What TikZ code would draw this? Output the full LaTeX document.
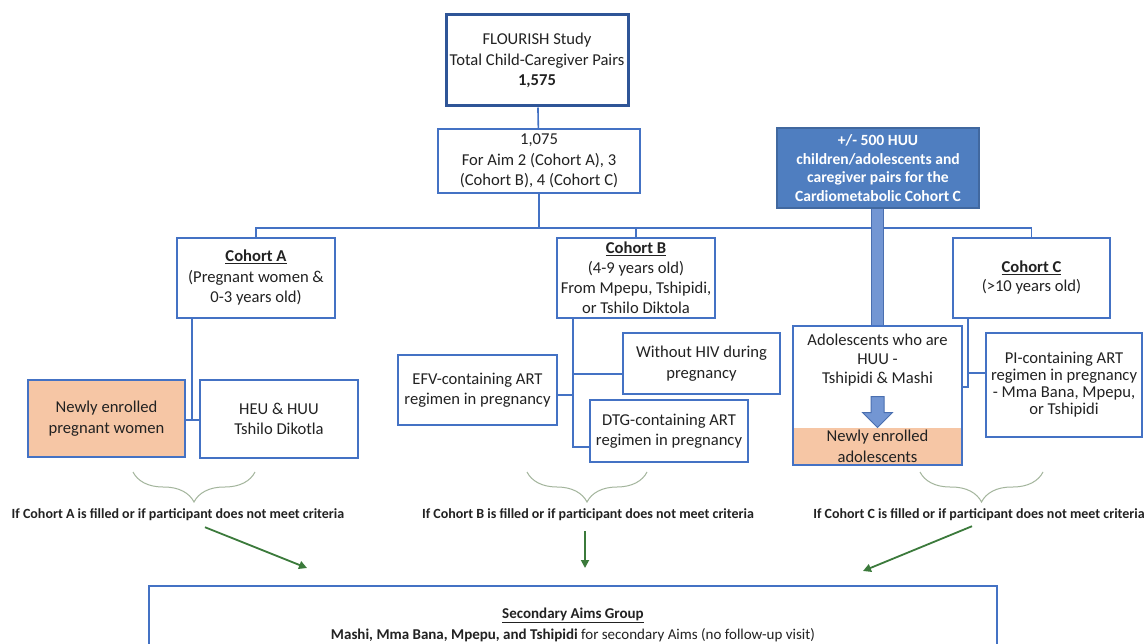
\documentclass[tikz,border=0pt]{standalone}
\usepackage{fontspec}
\setmainfont{Carlito}
\usetikzlibrary{arrows.meta, positioning, calc, decorations.pathreplacing}

\definecolor{boxblue}{HTML}{4472C4}
\definecolor{darkblue}{HTML}{2F5597}
\definecolor{huublue}{HTML}{4F7EC0}
\definecolor{huuedge}{HTML}{41689F}
\definecolor{shaftblue}{HTML}{7396D3}
\definecolor{shaftedge}{HTML}{4A6FB0}
\definecolor{peach}{HTML}{F6C6A5}
\definecolor{flowgreen}{HTML}{3B7A3B}
\definecolor{bracegray}{HTML}{A3B59C}
\definecolor{txtgray}{HTML}{222222}

\tikzset{
  box/.style={draw=boxblue, line width=1.5pt, fill=white, align=center, inner sep=0pt,
              text=txtgray, font=\fontsize{16.6pt}{20.5pt}\selectfont},
  peachbox/.style={box, fill=peach},
  link/.style={draw=boxblue, line width=1.6pt},
  flow/.style={draw=flowgreen, line width=1.8pt, -{Triangle[length=8pt, width=8pt]}},
  brc/.style={draw=bracegray, line width=1pt, decorate, decoration={brace, amplitude=30pt}},
  note/.style={font=\bfseries\fontsize{14pt}{16pt}\selectfont, text=txtgray, inner sep=0pt},
}

\begin{document}
\begin{tikzpicture}[x=1pt, y=-1pt]
  \fill[white] (0,0) rectangle (1148,644);
  \useasboundingbox (0,0) rectangle (1148,644);

  \node[box, draw=darkblue, line width=3pt, minimum width=182pt, minimum height=91pt] (total) at (537,60.5)
    {FLOURISH Study\\Total Child-Caregiver Pairs\\\textbf{1,575}};
  \node[box, minimum width=202pt, minimum height=64pt] (aims) at (539,161)
    {1,075\\For Aim 2 (Cohort A), 3\\(Cohort B), 4 (Cohort C)};
  \node[box, draw=huuedge, fill=huublue, text=white, minimum width=202pt, minimum height=80pt,
        font=\bfseries\fontsize{15.6pt}{18.5pt}\selectfont] (huu) at (878,168)
    {+/- 500 HUU\\children/adolescents and\\caregiver pairs for the\\Cardiometabolic Cohort C};

  \node[box, minimum width=158pt, minimum height=80pt] (cohA) at (256,278)
    {\underline{\textbf{Cohort A}}\\(Pregnant women \&\\0-3 years old)};
  \node[box, minimum width=158pt, minimum height=80pt, font=\fontsize{16.6pt}{20pt}\selectfont] (cohB) at (636,278)
    {\underline{\textbf{Cohort B}}\\(4-9 years old)\\From Mpepu, Tshipidi,\\or Tshilo Diktola};
  \node[box, minimum width=157pt, minimum height=80pt, font=\fontsize{16.6pt}{19pt}\selectfont] (cohC) at (1031.5,278)
    {\underline{\textbf{Cohort C}}\\(>10 years old)};

  \node[peachbox, minimum width=157pt, minimum height=77pt] (pregA) at (106.5,418.5)
    {Newly enrolled\\pregnant women};
  \node[box, minimum width=158pt, minimum height=78pt] (heu) at (279,419)
    {HEU \& HUU\\Tshilo Dikotla};

  \node[box, minimum width=159pt, minimum height=70pt] (efv) at (477.5,390)
    {EFV-containing ART\\regimen in pregnancy};
  \node[box, minimum width=157pt, minimum height=61pt] (nohiv) at (701.5,363.5)
    {Without HIV during\\pregnancy};
  \node[box, minimum width=158pt, minimum height=62pt] (dtg) at (669,431)
    {DTG-containing ART\\regimen in pregnancy};

  \node[box, minimum width=169pt, minimum height=139pt] (adol) at (877.5,395.5) {};
  \node[anchor=north, align=center, inner sep=0pt, text=txtgray,
        font=\fontsize{16.6pt}{19pt}\selectfont] (adoltxt) at ([yshift=-9pt]adol.north)
    {Adolescents who are\\HUU -\\Tshipidi \& Mashi};
  \node[peachbox, draw=none, anchor=south, minimum width=167.5pt, minimum height=36pt] (adolnew)
    at ([yshift=0.75pt]adol.south) {Newly enrolled\\adolescents};
  \node[box, minimum width=156pt, minimum height=104pt, font=\fontsize{16.6pt}{17pt}\selectfont] (pi) at (1064,385)
    {PI-containing ART\\regimen in pregnancy\\- Mma Bana, Mpepu,\\or Tshipidi};

  \node[box, anchor=north, minimum width=848pt, minimum height=78pt,
        font=\fontsize{15pt}{21pt}\selectfont] (sec) at (573,585)
    {\underline{\textbf{Secondary Aims Group}}\\\textbf{Mashi, Mma Bana, Mpepu, and Tshipidi} for secondary Aims (no follow-up visit)};

  \coordinate (bus) at (0,228);
  \coordinate (trunkA) at (192,0);
  \coordinate (trunkB) at (573,0);
  \coordinate (trunkC) at (968,0);

  \draw[link] (total) -- (aims);
  \draw[link] (aims.south) -- (aims.south |- bus);
  \draw[link] (cohA.north) -- (cohA.north |- bus) -- (cohC.north |- bus) -- (cohC.north);
  \draw[link] (cohB.north) -- (cohB.north |- bus);

  \draw[link] (cohA.south -| trunkA) -- ([yshift=-1.5pt]pregA.east -| trunkA);
  \draw[link] ([yshift=-1.5pt]pregA.east) -- ([yshift=-1.5pt]pregA.east -| heu.west);

  \draw[link] (cohB.south -| trunkB) |- ([yshift=-16pt]dtg.west);
  \draw[link] ([yshift=-5pt]efv.east) -- ([yshift=-5pt]efv.east -| trunkB);
  \draw[link] ([yshift=-10.5pt]nohiv.west) -- ([yshift=-10.5pt]nohiv.west -| trunkB);

  \draw[link] (cohC.south -| trunkC) |- ([yshift=8.5pt]adol.east);
  \draw[link] ([yshift=12pt]pi.west) -- ([yshift=12pt]pi.west -| trunkC);

  \draw[line width=1pt, draw=shaftedge, double=shaftblue, double distance=11pt]
    (huu.south -| adol.north) -- (adol.north);
  \draw[draw=shaftedge, fill=shaftblue, line width=1pt] (adolnew.north) -- ++(-15,-15) -- ++(8.5,0)
    -- ++(0,-16) -- ++(13,0) -- ++(0,16) -- ++(8.5,0) -- cycle;

  \draw[brc] (255,472) -- (133,472);
  \draw[brc] (647,472) -- (527,472);
  \draw[brc] (1043,472) -- (920,472);

  \node[note] (noteA) at (178,515) {If Cohort A is filled or if participant does not meet criteria};
  \node[note] (noteB) at (588,515) {If Cohort B is filled or if participant does not meet criteria};
  \node[note] (noteC) at (979,515) {If Cohort C is filled or if participant does not meet criteria};

  \draw[flow] ($(noteA.south)+(27,6)$) -- ($(sec.north)+(-266,-17)$);
  \draw[flow] ($(noteB.south)+(-3,10)$) -- ($(sec.north)+(12,-17)$);
  \draw[flow] ($(noteC.south)+(-7,5)$) -- ($(sec.north)+(290,-14)$);
\end{tikzpicture}
\end{document}
